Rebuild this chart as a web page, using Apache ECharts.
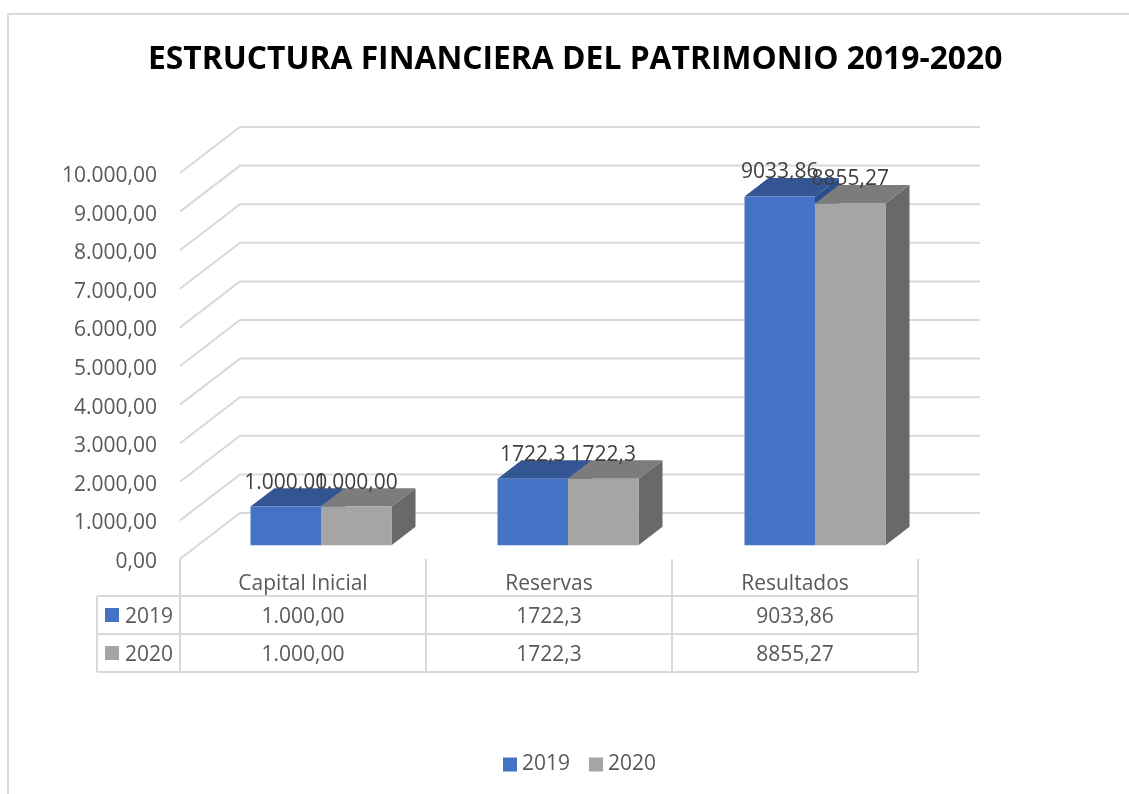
<!DOCTYPE html>
<html>
<head>
<meta charset="utf-8">
<style>
  html, body { margin: 0; padding: 0; background: #fff; }
  #chart { width: 1129px; height: 794px; }
</style>
<script src="https://cdn.jsdelivr.net/npm/echarts@6/dist/echarts.min.js"></script>
</head>
<body>
<div id="chart"></div>
<script>
const titleText = "ESTRUCTURA FINANCIERA DEL PATRIMONIO 2019-2020";
const categories = ["Capital Inicial", "Reservas", "Resultados"];
const seriesNames = ["2019", "2020"];
const values2019 = [1000, 1722.3, 9033.86];
const values2020 = [1000, 1722.3, 8855.27];
const labels2019 = ["1.000,00", "1722,3", "9033,86"];
const labels2020 = ["1.000,00", "1722,3", "8855,27"];
const yTicks = [0, 1000, 2000, 3000, 4000, 5000, 6000, 7000, 8000, 9000, 10000];

const FONT = "Open Sans";
const GRID_COLOR = "#d9d9d9";
const TEXT_COLOR = "#595959";
// wall depth in pixels, the bars stand between 30% and 70% of it
const DEPTH_X = 60;
const DEPTH_Y = 46;
const BAR_WIDTH = 70.5;
// bars spread a little wider than the table columns below them
const BAR_SPREAD = 1;

const formatTick = (v) => {
  const whole = String(v).replace(/\B(?=(\d{3})+$)/g, ".");
  return whole + ",00";
};

function renderWall(params, api) {
  const rect = params.coordSys;
  const value = api.value(0);
  const y = api.coord([0, value])[1];
  return {
    type: "group",
    children: [
      {
        type: "polyline",
        shape: {
          points: [
            [rect.x, y],
            [rect.x + DEPTH_X, y - DEPTH_Y],
            [rect.x + rect.width + DEPTH_X + 2, y - DEPTH_Y],
          ],
        },
        style: { stroke: GRID_COLOR, lineWidth: 2, fill: null },
      },
      {
        // tick label sits a bit below the axis label position ECharts would give
        type: "text",
        style: {
          x: rect.x - 23,
          y: y + 3,
          text: formatTick(value),
          align: "right",
          verticalAlign: "middle",
          font: "21px '" + FONT + "'",
          fill: TEXT_COLOR,
        },
      },
    ],
  };
}

function makeBarRenderer(slot, colors, labels) {
  return function (params, api) {
    const catIndex = api.value(0);
    const top = api.coord([catIndex, api.value(1)]);
    const base = api.coord([catIndex, 0]);
    const dx0 = DEPTH_X * 0.3;
    const dy0 = DEPTH_Y * 0.3;
    const dx = DEPTH_X * 0.4;
    const dy = DEPTH_Y * 0.4;
    const x0 = top[0] + dx0 + (slot - 1) * BAR_WIDTH + catIndex * BAR_SPREAD;
    const x1 = x0 + BAR_WIDTH;
    const yTop = top[1] - dy0;
    const yBase = base[1] - dy0;
    return {
      type: "group",
      children: [
        {
          type: "polygon",
          shape: { points: [[x1, yTop], [x1 + dx, yTop - dy], [x1 + dx, yBase - dy], [x1, yBase]] },
          style: { fill: colors.side },
        },
        {
          type: "polygon",
          shape: { points: [[x0, yTop], [x0 + dx, yTop - dy], [x1 + dx, yTop - dy], [x1, yTop]] },
          style: { fill: colors.top },
        },
        {
          type: "rect",
          shape: { x: x0, y: yTop, width: BAR_WIDTH, height: yBase - yTop },
          style: { fill: colors.front },
        },
        {
          type: "text",
          z2: 10,
          style: {
            x: (x0 + x1) / 2,
            y: yTop - 24,
            text: labels[catIndex],
            align: "center",
            verticalAlign: "middle",
            font: "21px '" + FONT + "'",
            fill: "#404040",
          },
        },
      ],
    };
  };
}

function renderTable(params, api) {
  const rect = params.coordSys;
  const catIndex = api.value(0);
  const cx = api.coord([catIndex, 0])[0];
  const band = api.size([1, 0])[0];
  const bottom = rect.y + rect.height;
  const rows = [bottom + 37, bottom + 75, bottom + 113];
  const children = [];
  const line = (x1, y1, x2, y2) => ({
    type: "line",
    shape: { x1, y1, x2, y2 },
    style: { stroke: GRID_COLOR, lineWidth: 2 },
  });
  const text = (x, y, s) => ({
    type: "text",
    style: {
      x, y, text: s, align: "center", verticalAlign: "middle",
      font: "21px '" + FONT + "'", fill: TEXT_COLOR,
    },
  });
  children.push(line(cx + band / 2, bottom, cx + band / 2, rows[2]));
  children.push(text(cx, bottom + 58, labels2019[catIndex]));
  children.push(text(cx, bottom + 96, labels2020[catIndex]));
  if (catIndex === 0) {
    const left = rect.x - 83;
    const right = rect.x + rect.width;
    children.push(line(rect.x, bottom, rect.x, rows[2]));
    children.push(line(left, rows[0], left, rows[2]));
    rows.forEach((y) => children.push(line(left, y, right, y)));
    seriesNames.forEach((name, i) => {
      const y = bottom + 56 + i * 38;
      children.push({
        type: "rect",
        shape: { x: rect.x - 75, y: y - 7, width: 14, height: 14 },
        style: { fill: i === 0 ? "#4472c4" : "#a5a5a5" },
      });
      children.push(text(rect.x - 31, y + 2, name));
    });
  }
  return { type: "group", children };
}

const chart = echarts.init(document.getElementById("chart"));
chart.setOption({
  animation: false,
  backgroundColor: "#fff",
  title: {
    text: titleText,
    top: 39,
    left: 143,
    textStyle: { fontFamily: FONT, fontSize: 31.8, fontWeight: "bold", color: "#000" },
  },
  legend: {
    data: seriesNames,
    left: 498,
    top: 749,
    icon: "rect",
    itemWidth: 14,
    itemHeight: 14,
    itemGap: 19,
    selectedMode: false,
    textStyle: { fontFamily: FONT, fontSize: 21, color: TEXT_COLOR },
  },
  grid: { left: 180, top: 173, width: 738, height: 386 },
  xAxis: {
    type: "category",
    data: categories,
    axisLine: { show: false },
    axisTick: { show: false },
    axisLabel: { fontFamily: FONT, fontSize: 21, color: TEXT_COLOR, margin: 15 },
  },
  yAxis: {
    type: "value",
    min: 0,
    max: 10000,
    interval: 1000,
    axisLine: { show: false },
    axisTick: { show: false },
    splitLine: { show: false },
    axisLabel: { show: false },
  },
  graphic: [
    {
      type: "polyline",
      shape: { points: [[8, 794], [8, 14], [1129, 14]] },
      style: { stroke: GRID_COLOR, lineWidth: 2, fill: null },
      z: -1,
    },
  ],
  series: [
    {
      name: "walls",
      type: "custom",
      data: yTicks.map((v) => [v]),
      encode: { y: 0 },
      renderItem: renderWall,
      silent: true,
      z: 1,
    },
    {
      name: "table",
      type: "custom",
      data: categories.map((c, i) => [i]),
      encode: { x: 0 },
      renderItem: renderTable,
      silent: true,
      z: 1,
    },
    {
      name: "2019",
      type: "custom",
      data: values2019.map((v, i) => [i, v]),
      encode: { x: 0, y: 1 },
      itemStyle: { color: "#4472c4" },
      renderItem: makeBarRenderer(0, { front: "#4472c4", top: "#335593", side: "#2a4d8f" }, labels2019),
      z: 2,
    },
    {
      name: "2020",
      type: "custom",
      data: values2020.map((v, i) => [i, v]),
      encode: { x: 0, y: 1 },
      itemStyle: { color: "#a5a5a5" },
      renderItem: makeBarRenderer(1, { front: "#a5a5a5", top: "#7c7c7c", side: "#696969" }, labels2020),
      z: 3,
    },
  ],
});
</script>
</body>
</html>
